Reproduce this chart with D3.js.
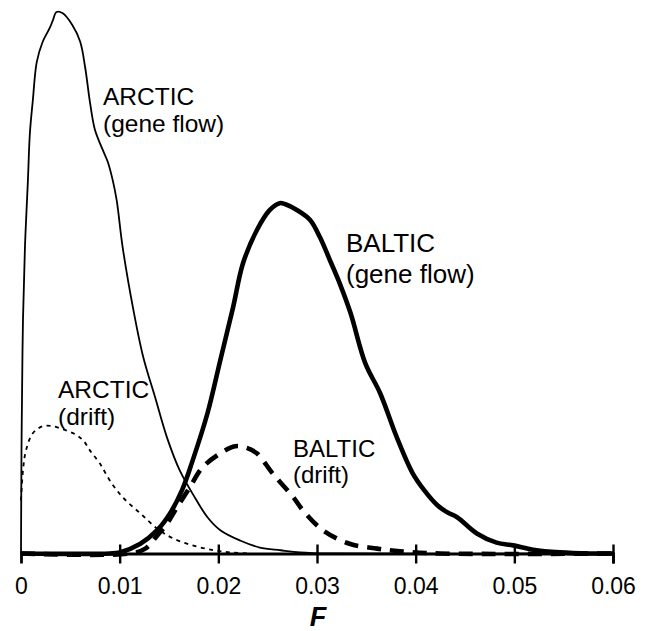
<!DOCTYPE html>
<html>
<head>
<meta charset="utf-8">
<script src="https://cdn.jsdelivr.net/npm/d3@7"></script>
<style>
  body { margin: 0; background: #fff; }
  #chart { width: 645px; height: 631px; }
</style>
</head>
<body>
<div id="chart"></div>
<script>
// F 值, 相对密度 (峰值 = 100)
const arcticGeneFlow = [
  [0.0000, 0], [0.00005, 19.0], [0.0001, 28.3], [0.0002, 43.1], [0.0004, 56.6],
  [0.0007, 68.9], [0.0009, 77.6], [0.0012, 83.7], [0.0016, 90.8], [0.0022, 94.5],
  [0.0029, 97.0], [0.0032, 98.3], [0.0036, 100], [0.0042, 99.8], [0.0052, 97.6],
  [0.0060, 94.5], [0.0065, 89.8], [0.0070, 83.2], [0.0075, 78.2], [0.0082, 74.9],
  [0.0088, 72.3], [0.0093, 68.9], [0.0097, 65.2], [0.0103, 56.6], [0.0114, 44.9],
  [0.0124, 36.2], [0.0136, 28.8], [0.0148, 21.4], [0.0161, 15.3], [0.0176, 10.4],
  [0.0189, 6.7], [0.0202, 4.3], [0.0222, 2.4], [0.0242, 1.1], [0.0263, 0.6],
  [0.0283, 0.2], [0.0313, 0], [0.0600, 0]
];
const arcticDrift = [
  [0.0000, 9.8], [0.0002, 15.3], [0.0005, 19.0], [0.0012, 22.2], [0.0022, 23.5],
  [0.0032, 23.5], [0.0043, 22.9], [0.0055, 22.0], [0.0063, 20.9], [0.0070, 19.0],
  [0.0080, 16.6], [0.0090, 13.5], [0.0103, 10.4], [0.0121, 7.4], [0.0138, 4.6],
  [0.0154, 2.8], [0.0174, 1.5], [0.0195, 0.6], [0.0212, 0.2], [0.0232, 0]
];
const balticGeneFlow = [
  [0.0000, 0], [0.0090, 0], [0.0100, 0.2], [0.0121, 1.8], [0.0138, 4.3],
  [0.0151, 7.4], [0.0163, 11.6], [0.0174, 17.2], [0.0189, 25.9], [0.0202, 35.7],
  [0.0215, 45.5], [0.0225, 53.6], [0.0239, 59.7], [0.0252, 63.4], [0.0262, 64.7],
  [0.0268, 64.5], [0.0280, 63.4], [0.0293, 61.6], [0.0303, 58.4], [0.0313, 54.2],
  [0.0323, 49.9], [0.0334, 44.4], [0.0349, 35.1], [0.0364, 29.6], [0.0381, 21.4],
  [0.0397, 14.8], [0.0409, 11.6], [0.0422, 8.9], [0.0432, 7.6], [0.0442, 6.7],
  [0.0462, 3.7], [0.0482, 2.0], [0.0499, 1.5], [0.0519, 0.7], [0.0546, 0.2],
  [0.0577, 0], [0.0600, 0]
];
const balticDrift = [
  [0.0000, 0], [0.0110, 0], [0.0126, 0.9], [0.0138, 3.3], [0.0148, 5.5],
  [0.0156, 7.9], [0.0171, 12.2], [0.0184, 15.9], [0.0202, 18.5], [0.0217, 19.8],
  [0.0227, 19.6], [0.0239, 18.5], [0.0255, 14.8], [0.0276, 10.4], [0.0286, 7.9],
  [0.0306, 4.3], [0.0333, 1.8], [0.0361, 0.9], [0.0384, 0.4], [0.0425, 0],
  [0.0600, 0]
];
const tickValues = [0, 0.01, 0.02, 0.03, 0.04, 0.05, 0.06];
const tickLabels = ['0', '0.01', '0.02', '0.03', '0.04', '0.05', '0.06'];

const width = 645, height = 631;
const svg = d3.select('#chart').append('svg')
  .attr('width', width).attr('height', height)
  .style('font-family', '"Liberation Sans", Arial, sans-serif');

const x = d3.scaleLinear().domain([0, 0.06]).range([21, 613]);
const y = d3.scaleLinear().domain([0, 100]).range([553.5, 12]);

// 坐标轴
const axis = svg.append('g')
  .attr('transform', 'translate(0,' + y(0) + ')')
  .call(d3.axisBottom(x)
    .tickValues(tickValues)
    .tickSize(10)
    .tickPadding(14)
    .tickFormat((d, i) => tickLabels[i]));
axis.select('.domain').attr('stroke', '#000').attr('stroke-width', 2.8);
axis.selectAll('.tick line')
  .attr('y1', -9).attr('y2', 10)
  .attr('stroke', '#000').attr('stroke-width', 2.4)
  .attr('opacity', d => d === 0 ? 0 : 1);
axis.selectAll('.tick text')
  .attr('fill', '#000').style('font-size', '23px')
  .attr('font-family', '"Liberation Sans", Arial, sans-serif');

svg.append('text')
  .attr('x', 318).attr('y', 626)
  .attr('text-anchor', 'middle')
  .style('font-size', '27px').style('font-weight', 'bold').style('font-style', 'italic')
  .text('F');

// 曲线
const line = d3.line()
  .x(d => x(d[0])).y(d => y(d[1]))
  .curve(d3.curveCatmullRom.alpha(0.5));

const series = [
  { data: balticGeneFlow, w: 4.6, dash: null },
  { data: balticDrift, w: 4.6, dash: '14,9' },
  { data: arcticGeneFlow, w: 1.8, dash: null },
  { data: arcticDrift, w: 1.8, dash: '4,4.5' }
];
svg.selectAll('path.curve')
  .data(series).enter()
  .append('path').attr('class', 'curve')
  .attr('d', d => line(d.data))
  .attr('fill', 'none')
  .attr('stroke', '#000')
  .attr('stroke-width', d => d.w)
  .attr('stroke-linejoin', 'round')
  .attr('stroke-dasharray', d => d.dash);

// 标签
const labels = [
  { x: 103, y: 105, size: 24.5, lines: ['ARCTIC', '(gene flow)'], gap: 27 },
  { x: 58, y: 398, size: 24.5, lines: ['ARCTIC', '(drift)'], gap: 27 },
  { x: 346, y: 252, size: 26, lines: ['BALTIC', '(gene flow)'], gap: 31 },
  { x: 293, y: 457, size: 24, lines: ['BALTIC', '(drift)'], gap: 26 }
];
labels.forEach(l => {
  const t = svg.append('text')
    .attr('x', l.x).attr('y', l.y)
    .style('font-size', l.size + 'px');
  l.lines.forEach((s, i) => {
    t.append('tspan').attr('x', l.x).attr('dy', i === 0 ? 0 : l.gap).text(s);
  });
});
</script>
</body>
</html>
